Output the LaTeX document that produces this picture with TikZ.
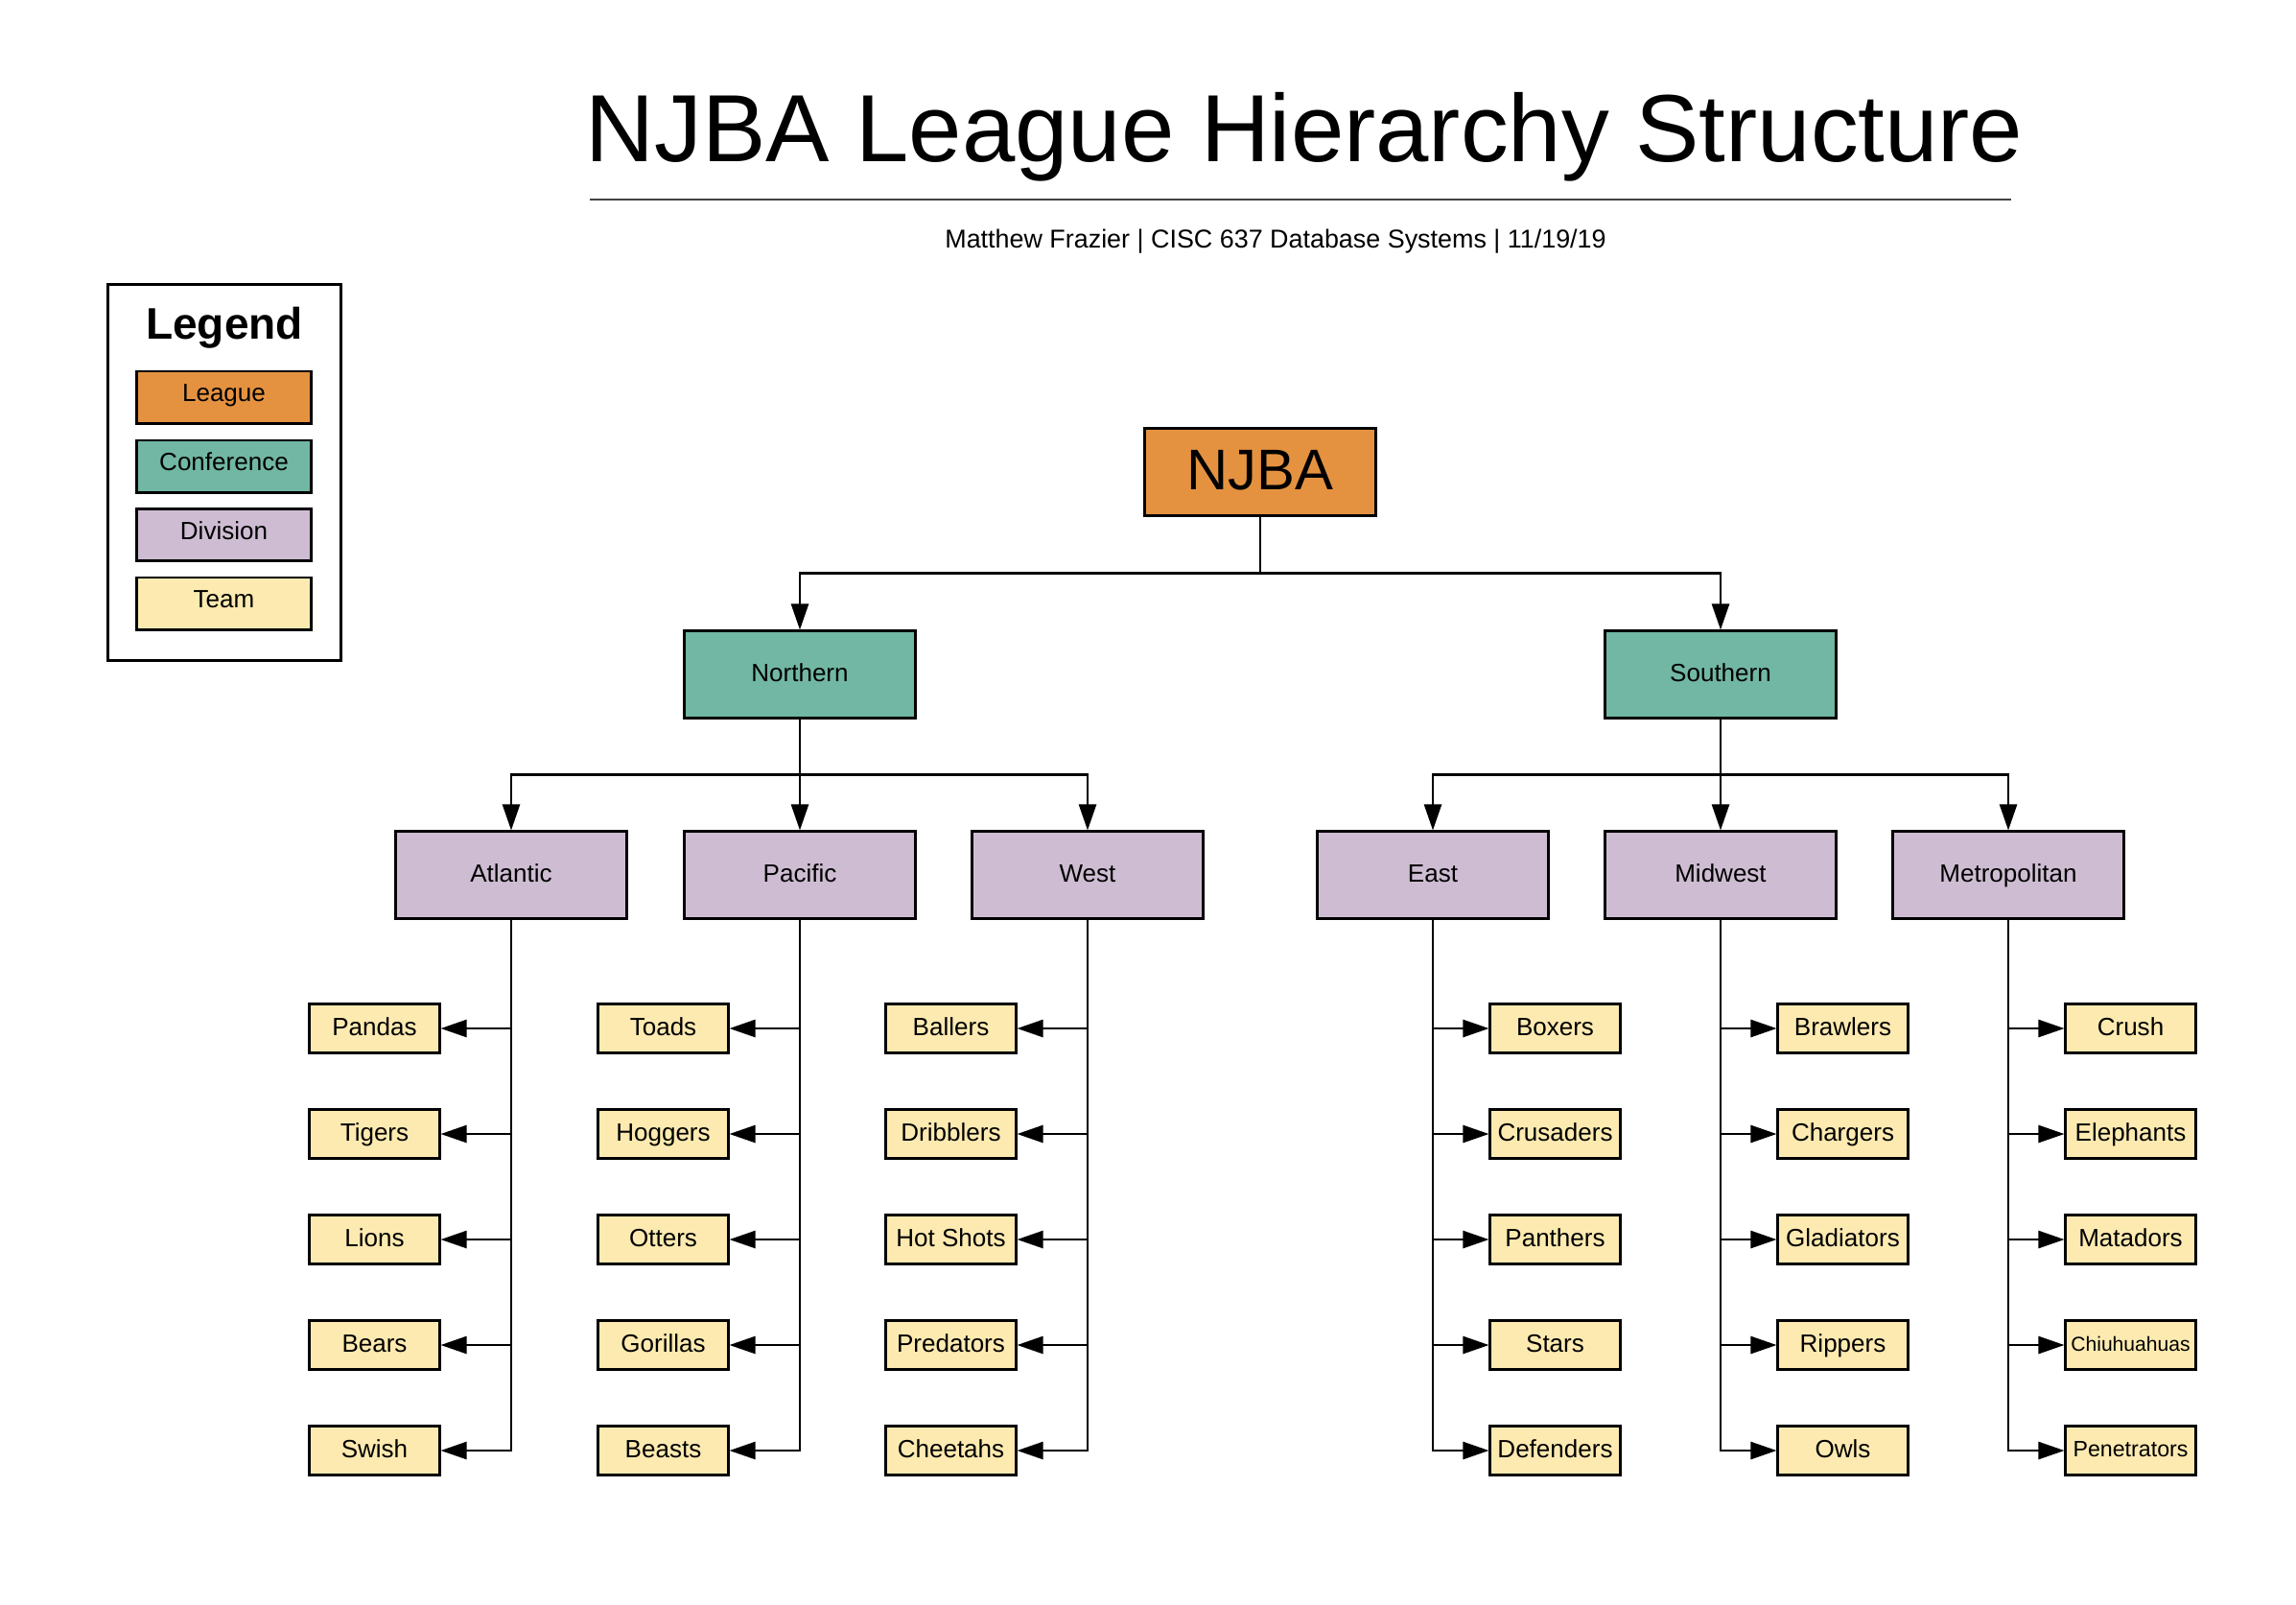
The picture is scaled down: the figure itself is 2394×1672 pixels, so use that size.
\documentclass[tikz,border=0pt]{standalone}
\usepackage{fontspec}
\setmainfont{Liberation Sans}
\usetikzlibrary{arrows.meta}
\definecolor{leaguecol}{HTML}{E49240}
\definecolor{confcol}{HTML}{71B7A3}
\definecolor{divcol}{HTML}{CEBDD2}
\definecolor{teamcol}{HTML}{FDEAB0}
\definecolor{rulecol}{HTML}{444444}
\begin{document}
\begin{tikzpicture}[x=0.01cm,y=-0.01cm,
    box/.style={draw=black,line width=0.85pt,inner sep=0pt,align=center,
        font=\fontsize{7.4}{9}\selectfont,text height=0.187cm,text depth=0.03cm},
    league/.style={box,fill=leaguecol,minimum width=2.41cm,minimum height=0.9cm},
    conf/.style={box,fill=confcol,minimum width=2.41cm,minimum height=0.9cm},
    division/.style={box,fill=divcol,minimum width=2.4cm,minimum height=0.9cm},
    team/.style={box,fill=teamcol,minimum width=1.35cm,minimum height=0.51cm},
    key/.style={box,minimum width=1.81cm,minimum height=0.54cm,text depth=0.09cm},
    link/.style={line width=0.7pt,-{Triangle[length=0.27cm,width=0.18cm]}}]
    \useasboundingbox (0,0) rectangle (2394,1672);

    % title
    \node[anchor=base,font=\fontsize{28.3}{31}\selectfont] (title) at (1360,168) {NJBA League Hierarchy Structure};
    \draw[rulecol,line width=0.57pt] (615,208) -- (2097,208);
    \node[anchor=base,font=\fontsize{7.65}{9}\selectfont] (sub) at (1330,258) {Matthew Frazier | CISC 637 Database Systems | 11/19/19};

    % legend
    \node[draw=black,line width=0.85pt,minimum width=2.42cm,minimum height=3.91cm] (legend) at (234,492.5) {};
    \node[anchor=base,font=\fontsize{13.1}{15}\selectfont\bfseries] (legendtitle) at (234,353) {Legend};
    \node[key,fill=leaguecol] (kleague) at (233.5,414) {League};
    \node[key,fill=confcol] (kconf) at (233.5,486) {Conference};
    \node[key,fill=divcol] (kdiv) at (233.5,557.5) {Division};
    \node[key,fill=teamcol] (kteam) at (233.5,629) {Team};

    % league and conferences
    \node[league,font=\fontsize{17}{20}\selectfont,text height=0.43cm,text depth=0.06cm] (njba) at (1314,492) {NJBA};
    \node[conf] (north) at (834,703) {Northern};
    \node[conf] (south) at (1794,703) {Southern};
    \coordinate (bar) at (1314,597.5);
    \draw[link] (njba.south) -- (bar) -| (north.north);
    \draw[link] (bar) -| (south.north);

    % divisions
    \node[division] (atl) at (533,912) {Atlantic};
    \node[division] (pac) at (834,912) {Pacific};
    \node[division] (west) at (1134,912) {West};
    \node[division] (east) at (1494,912) {East};
    \node[division] (mid) at (1794,912) {Midwest};
    \node[division] (metro) at (2094,912) {Metropolitan};
    \coordinate (nbar) at (834,807.5);
    \coordinate (sbar) at (1794,807.5);
    \draw[link] (north.south) -- (nbar) -| (atl.north);
    \draw[link] (nbar) -- (pac.north);
    \draw[link] (nbar) -| (west.north);
    \draw[link] (south.south) -- (sbar) -| (east.north);
    \draw[link] (sbar) -- (mid.north);
    \draw[link] (sbar) -| (metro.north);

    % Atlantic teams
    \node[team] (pandas) at (390.5,1072) {Pandas};
    \node[team] (tigers) at (390.5,1182) {Tigers};
    \node[team] (lions) at (390.5,1292) {Lions};
    \node[team] (bears) at (390.5,1402) {Bears};
    \node[team] (swish) at (390.5,1512) {Swish};
    \draw[link] (atl.south) |- (pandas.east);
    \draw[link] (atl.south) |- (tigers.east);
    \draw[link] (atl.south) |- (lions.east);
    \draw[link] (atl.south) |- (bears.east);
    \draw[link] (atl.south) |- (swish.east);

    % Pacific teams
    \node[team] (toads) at (691.5,1072) {Toads};
    \node[team] (hoggers) at (691.5,1182) {Hoggers};
    \node[team] (otters) at (691.5,1292) {Otters};
    \node[team] (gorillas) at (691.5,1402) {Gorillas};
    \node[team] (beasts) at (691.5,1512) {Beasts};
    \draw[link] (pac.south) |- (toads.east);
    \draw[link] (pac.south) |- (hoggers.east);
    \draw[link] (pac.south) |- (otters.east);
    \draw[link] (pac.south) |- (gorillas.east);
    \draw[link] (pac.south) |- (beasts.east);

    % West teams
    \node[team] (ballers) at (991.5,1072) {Ballers};
    \node[team] (dribblers) at (991.5,1182) {Dribblers};
    \node[team] (hotshots) at (991.5,1292) {Hot Shots};
    \node[team] (predators) at (991.5,1402) {Predators};
    \node[team] (cheetahs) at (991.5,1512) {Cheetahs};
    \draw[link] (west.south) |- (ballers.east);
    \draw[link] (west.south) |- (dribblers.east);
    \draw[link] (west.south) |- (hotshots.east);
    \draw[link] (west.south) |- (predators.east);
    \draw[link] (west.south) |- (cheetahs.east);

    % East teams
    \node[team] (boxers) at (1621.5,1072) {Boxers};
    \node[team] (crusaders) at (1621.5,1182) {Crusaders};
    \node[team] (panthers) at (1621.5,1292) {Panthers};
    \node[team] (stars) at (1621.5,1402) {Stars};
    \node[team] (defenders) at (1621.5,1512) {Defenders};
    \draw[link] (east.south) |- (boxers.west);
    \draw[link] (east.south) |- (crusaders.west);
    \draw[link] (east.south) |- (panthers.west);
    \draw[link] (east.south) |- (stars.west);
    \draw[link] (east.south) |- (defenders.west);

    % Midwest teams
    \node[team] (brawlers) at (1921.5,1072) {Brawlers};
    \node[team] (chargers) at (1921.5,1182) {Chargers};
    \node[team] (gladiators) at (1921.5,1292) {Gladiators};
    \node[team] (rippers) at (1921.5,1402) {Rippers};
    \node[team] (owls) at (1921.5,1512) {Owls};
    \draw[link] (mid.south) |- (brawlers.west);
    \draw[link] (mid.south) |- (chargers.west);
    \draw[link] (mid.south) |- (gladiators.west);
    \draw[link] (mid.south) |- (rippers.west);
    \draw[link] (mid.south) |- (owls.west);

    % Metropolitan teams
    \node[team] (crush) at (2221.5,1072) {Crush};
    \node[team] (elephants) at (2221.5,1182) {Elephants};
    \node[team] (matadors) at (2221.5,1292) {Matadors};
    \node[team,font=\fontsize{6}{7}\selectfont,text height=0.15cm] (chihuahuas) at (2221.5,1402) {Chiuhuahuas};
    \node[team,font=\fontsize{6.6}{8}\selectfont,text height=0.167cm] (penetrators) at (2221.5,1512) {Penetrators};
    \draw[link] (metro.south) |- (crush.west);
    \draw[link] (metro.south) |- (elephants.west);
    \draw[link] (metro.south) |- (matadors.west);
    \draw[link] (metro.south) |- (chihuahuas.west);
    \draw[link] (metro.south) |- (penetrators.west);

\end{tikzpicture}
\end{document}
